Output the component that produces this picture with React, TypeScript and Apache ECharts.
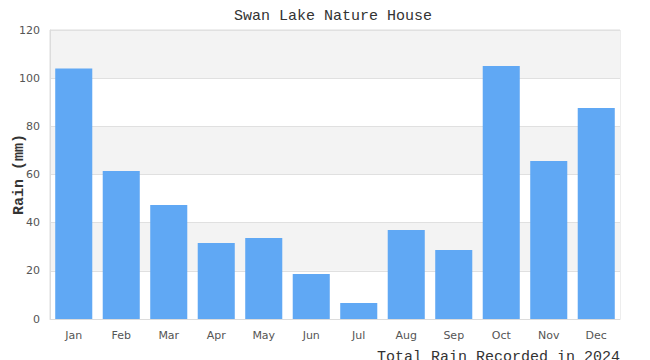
import React, { useEffect, useRef } from "react";
import * as echarts from "echarts";

const months = ["Jan", "Feb", "Mar", "Apr", "May", "Jun", "Jul", "Aug", "Sep", "Oct", "Nov", "Dec"];
const rain = [104, 61.5, 47.3, 31.6, 33.6, 18.7, 6.6, 37, 28.7, 105.1, 65.6, 87.6];
const chartTitle = "Swan Lake Nature House";
const yName = "Rain (mm)";
const footer = "Total Rain Recorded in 2024";

export default function App() {
  const ref = useRef<HTMLDivElement>(null);
  useEffect(() => {
    if (!ref.current) return;
    const chart = echarts.init(ref.current, null, { renderer: "svg" });
    chart.setOption({
      animation: false,
      backgroundColor: "#fff",
      title: {
        text: chartTitle,
        left: "center",
        top: -4,
        textStyle: { fontFamily: "Liberation Mono", fontSize: 15, fontWeight: "normal", color: "#333" },
      },
      grid: {
        left: 42, right: 38, top: 22, bottom: 49,
        containLabel: false, outerBoundsMode: "none",
        show: true, borderColor: "#dcdcdc", borderWidth: 1, backgroundColor: "transparent",
      },
      xAxis: {
        type: "category",
        data: months,
        axisLine: { show: true, lineStyle: { color: "#dcdcdc" } },
        axisTick: { show: false },
        axisLabel: { color: "#555", fontSize: 11, fontFamily: "DejaVu Sans", margin: 11 },
      },
      yAxis: {
        type: "value",
        min: 0,
        max: 120,
        interval: 20,
        name: yName,
        nameLocation: "middle",
        nameRotate: 90,
        nameGap: 23,
        nameMoveOverlap: false,
        nameTextStyle: { fontFamily: "Liberation Mono", fontSize: 15, fontWeight: "bold", color: "#333" },
        axisLine: { show: true, lineStyle: { color: "#dcdcdc" } },
        axisTick: { show: false },
        axisLabel: { color: "#555", fontSize: 11, fontFamily: "DejaVu Sans", margin: 10 },
        splitLine: { show: true, lineStyle: { color: "#e0e0e0" } },
        splitArea: { show: true, areaStyle: { color: ["#ffffff", "#f3f3f3"] } },
      },
      series: [
        {
          type: "bar",
          data: rain,
          barCategoryGap: "22%",
          itemStyle: { color: "#60a8f4" },
        },
      ],
      graphic: [
        {
          type: "text",
          right: 38,
          top: 342,
          style: { text: footer, fontFamily: "Liberation Mono", fontSize: 15, fill: "#333" },
        },
      ],
    });
    return () => chart.dispose();
  }, []);
  return <div ref={ref} style={{ width: 650, height: 360 }} />;
}
